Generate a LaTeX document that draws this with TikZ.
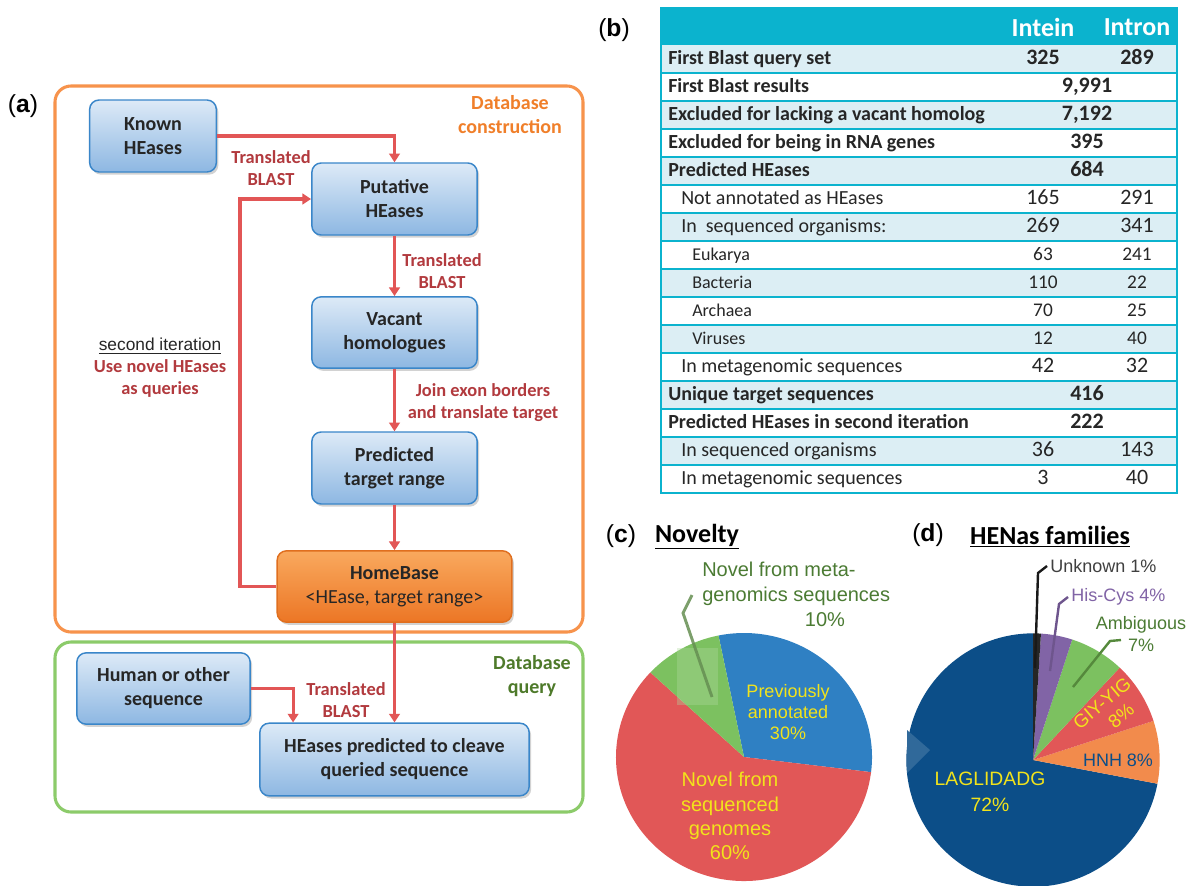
\documentclass[tikz,border=0pt]{standalone}
\usepackage{fontspec}
\setmainfont{Carlito}
\newfontfamily\arialf{Liberation Sans}
\usetikzlibrary{shadows,arrows.meta,calc}

\definecolor{oframe}{HTML}{F7934C}
\definecolor{gframe}{HTML}{8CCB6A}
\definecolor{otext}{HTML}{F07F2A}
\definecolor{gtext}{HTML}{4E7A2A}
\definecolor{ared}{HTML}{E25656}
\definecolor{lred}{HTML}{B23A3E}
\definecolor{btop}{HTML}{DDEAF7}
\definecolor{bbot}{HTML}{8DB7E2}
\definecolor{bline}{HTML}{3A86C9}
\definecolor{htop}{HTML}{F9A95E}
\definecolor{hbot}{HTML}{EC7625}
\definecolor{hline}{HTML}{E06F1F}
\definecolor{tteal}{HTML}{0BB3CE}
\definecolor{rowb}{HTML}{DCEEF4}
\definecolor{ttext}{HTML}{262626}
\definecolor{pblue}{HTML}{2F80C3}
\definecolor{pred}{HTML}{E15757}
\definecolor{pgreen}{HTML}{7CC160}
\definecolor{pyellow}{HTML}{F2E31B}
\definecolor{pdgreen}{HTML}{4B7B33}
\definecolor{pnavy}{HTML}{0C4E88}
\definecolor{porange}{HTML}{F28B4C}
\definecolor{ppurple}{HTML}{8164A6}
\definecolor{pgray}{HTML}{404040}

\begin{document}
\begin{tikzpicture}[x=0.75pt,y=-0.75pt,
  fbox/.style={draw=bline, line width=1.1pt, rounded corners=7pt, top color=btop, bottom color=bbot,
    align=center, inner sep=0pt, text=black!85, font=\bfseries\fontsize{15}{18}\selectfont,
    drop shadow={shadow xshift=1.5pt, shadow yshift=-2pt, opacity=0.35}},
  hbox/.style={fbox, draw=hline, top color=htop, bottom color=hbot},
  arr/.style={draw=ared, line width=2.3pt, -{Triangle[width=8pt,length=6.5pt]}},
  lab/.style={text=lred, align=center, font=\bfseries\fontsize{13.8}{16.5}\selectfont},
  tcell/.style={text=ttext, inner sep=0pt, text height=10.5pt, text depth=2.5pt},
  tbold/.style={tcell, anchor=west, font=\bfseries\fontsize{15}{17}\selectfont},
  treg/.style={tcell, anchor=west, font=\fontsize{15}{17}\selectfont},
  tsmall/.style={tcell, anchor=west, font=\fontsize{13.5}{15}\selectfont},
  nbold/.style={tcell, font=\bfseries\fontsize{16.5}{18}\selectfont},
  nreg/.style={tcell, font=\fontsize{16.5}{18}\selectfont},
  nsmall/.style={tcell, font=\fontsize{14.5}{16}\selectfont},
  plab/.style={font=\arialf\fontsize{13.5}{16}\selectfont, align=center, inner sep=0pt},
  panel/.style={font=\arialf\fontsize{18.5}{20}\selectfont, inner sep=0pt},
  ptitle/.style={font=\bfseries\fontsize{19.5}{22}\selectfont, inner sep=0pt}
]
\useasboundingbox (0,0) rectangle (1191,885);
\clip (0,0) rectangle (1191,885);
\fill[white] (0,0) rectangle (1191,885);

% ================= panel (a) =================
\node[panel] (pa) at (23,106) {(\textbf{a})};
\draw[oframe, line width=2.3pt, rounded corners=12pt] (55,86) rectangle (583,632);
\draw[gframe, line width=2.3pt, rounded corners=12pt] (55,642) rectangle (583,812);
\node[text=otext, align=center, font=\bfseries\fontsize{15}{18}\selectfont] (dbc) at (510,115) {Database\\construction};
\node[text=gtext, align=center, font=\bfseries\fontsize{15}{18}\selectfont] (dbq) at (532,676) {Database\\query};

\node[fbox, minimum width=95pt, minimum height=54pt] (known) at (153,136) {Known\\HEases};
\node[fbox, minimum width=124pt, minimum height=54pt] (putative) at (394.5,199) {Putative\\HEases};
\node[fbox, minimum width=124pt, minimum height=53.5pt] (vacant) at (394.5,332.5) {Vacant\\homologues};
\node[fbox, minimum width=124pt, minimum height=54pt] (predicted) at (394.5,468) {Predicted\\target range};
\node[hbox, minimum width=176pt, minimum height=53.5pt] (homebase) at (394.5,586.5) {HomeBase\\\mdseries\textless HEase, target range\textgreater};
\node[fbox, minimum width=130pt, minimum height=53.5pt] (human) at (163.5,688.5) {Human or other\\sequence};
\node[fbox, minimum width=202pt, minimum height=54.5pt] (hepred) at (394.5,759.5) {HEases predicted to cleave\\queried sequence};

\coordinate (loopx) at (240,400);
\coordinate (hin) at ($(hepred.north west)+(34,0)$);
\draw[arr] (known.east) -| (putative.north);
\draw[arr] (putative.south) -- (vacant.north);
\draw[arr] (vacant.south) -- (predicted.north);
\draw[arr] (predicted.south) -- (homebase.north);
\draw[arr] (homebase.west) -| (loopx) |- (putative.west);
\draw[arr] (homebase.south) -- (hepred.north);
\draw[arr] (human.east) -| (hin);

\node[lab] (l1) at (271,168) {Translated\\BLAST};
\node[lab] (l2) at (442,271) {Translated\\BLAST};
\node[lab] (l3) at (483,403) {Join exon borders\\and translate target};
\node[lab] (l4) at (346,700) {Translated\\BLAST};
\node[font=\arialf\fontsize{13}{15}\selectfont, text=black!85] (l5) at (160,346) {\underline{second iteration}};
\node[lab] (l6) at (160,378) {Use novel HEases\\as queries};

% ================= panel (b) =================
\node[panel] (pb) at (614,30) {(\textbf{b})};
\foreach \i in {0,2,...,14} \fill[rowb] (661,{45+28*\i}) rectangle (1177,{73+28*\i});
\fill[tteal] (661,8) rectangle (1177,45);
\foreach \i in {1,...,15} \draw[tteal, line width=1.6pt] (661,{45+28*\i}) -- (1177,{45+28*\i});
\draw[tteal, line width=1.6pt] (661,8) rectangle (1177,493);
\node[text=white, font=\bfseries\fontsize{19.5}{22}\selectfont] (hin1) at (1043,27) {Intein};
\node[text=white, font=\bfseries\fontsize{19.5}{22}\selectfont] (hin2) at (1137,27) {Intron};

\node[tbold] (r1) at (668,59) {First Blast query set};
\node[nbold] (r1a) at (1043,59) {325};
\node[nbold] (r1b) at (1137,59) {289};
\node[tbold] (r2) at (668,87) {First Blast results};
\node[nbold] (r2m) at (1087,87) {9,991};
\node[tbold] (r3) at (668,115) {Excluded for lacking a vacant homolog};
\node[nbold] (r3m) at (1087,115) {7,192};
\node[tbold] (r4) at (668,143) {Excluded for being in RNA genes};
\node[nbold] (r4m) at (1087,143) {395};
\node[tbold] (r5) at (668,171) {Predicted HEases};
\node[nbold] (r5m) at (1087,171) {684};
\node[treg] (r6) at (681,199) {Not annotated as HEases};
\node[nreg] (r6a) at (1043,199) {165};
\node[nreg] (r6b) at (1137,199) {291};
\node[treg] (r7) at (681,227) {In\ \ sequenced organisms:};
\node[nreg] (r7a) at (1043,227) {269};
\node[nreg] (r7b) at (1137,227) {341};
\node[tsmall] (r8) at (692,255) {Eukarya};
\node[nsmall] (r8a) at (1043,255) {63};
\node[nsmall] (r8b) at (1137,255) {241};
\node[tsmall] (r9) at (692,283) {Bacteria};
\node[nsmall] (r9a) at (1043,283) {110};
\node[nsmall] (r9b) at (1137,283) {22};
\node[tsmall] (r10) at (692,311) {Archaea};
\node[nsmall] (r10a) at (1043,311) {70};
\node[nsmall] (r10b) at (1137,311) {25};
\node[tsmall] (r11) at (692,339) {Viruses};
\node[nsmall] (r11a) at (1043,339) {12};
\node[nsmall] (r11b) at (1137,339) {40};
\node[treg] (r12) at (681,367) {In metagenomic sequences};
\node[nreg] (r12a) at (1043,367) {42};
\node[nreg] (r12b) at (1137,367) {32};
\node[tbold] (r13) at (668,395) {Unique target sequences};
\node[nbold] (r13m) at (1087,395) {416};
\node[tbold] (r14) at (668,423) {Predicted HEases in second iteration};
\node[nbold] (r14m) at (1087,423) {222};
\node[treg] (r15) at (681,451) {In sequenced organisms};
\node[nreg] (r15a) at (1043,451) {36};
\node[nreg] (r15b) at (1137,451) {143};
\node[treg] (r16) at (681,479) {In metagenomic sequences};
\node[nreg] (r16a) at (1043,479) {3};
\node[nreg] (r16b) at (1137,479) {40};

% ================= panel (c) =================
\node[panel] (pc0) at (621,536) {(\textbf{c})};
\node[ptitle] (ct) at (697,537) {\underline{Novelty}};
\coordinate (pcc) at (744,757);
\fill[pblue] (pcc) -- ++(101.5:96pt and 93pt) arc[start angle=101.5, end angle=-7, x radius=96pt, y radius=93pt] -- cycle;
\fill[pred] (pcc) -- ++(-7:96pt and 93pt) arc[start angle=-7, end angle=-223, x radius=96pt, y radius=93pt] -- cycle;
\fill[pgreen] (pcc) -- ++(137:96pt and 93pt) arc[start angle=137, end angle=101.5, x radius=96pt, y radius=93pt] -- cycle;
\fill[pgreen!60!white, opacity=0.35] (677,648) rectangle (718,705);
\coordinate (cl1) at (692,595);
\coordinate (cl2) at (683,613);
\coordinate (cl3) at (712,697);
\draw[pdgreen!85!white, line width=2.2pt, opacity=0.85] (cl1) -- (cl2) -- (cl3);
\node[plab, anchor=north west, align=left, text=pdgreen, font=\arialf\fontsize{15}{18.5}\selectfont] (cmeta) at (702,562) {Novel from meta-\\genomics sequences\\\hspace*{77pt}10\%};
\node[plab, text=pyellow, font=\arialf\fontsize{13.5}{15.6}\selectfont] (cprev) at (788,712) {Previously\\annotated\\30\%};
\node[plab, text=pyellow, font=\arialf\fontsize{15}{18.2}\selectfont] (cnov) at (730,816) {Novel from\\sequenced\\genomes\\60\%};

% ================= panel (d) =================
\node[panel] (pd0) at (928,535) {(\textbf{d})};
\node[ptitle] (dt) at (1050,537) {\underline{HENas families}};
\coordinate (pdc) at (1033,760);
\def\rr{95pt}
\fill[pnavy] (pdc) -- ++(-10.8:\rr) arc[start angle=-10.8, end angle=-270, radius=\rr] -- cycle;
\fill[porange] (pdc) -- ++(18:\rr) arc[start angle=18, end angle=-10.8, radius=\rr] -- cycle;
\fill[pred] (pdc) -- ++(46.8:\rr) arc[start angle=46.8, end angle=18, radius=\rr] -- cycle;
\fill[pgreen] (pdc) -- ++(72:\rr) arc[start angle=72, end angle=46.8, radius=\rr] -- cycle;
\fill[ppurple] (pdc) -- ++(86.4:\rr) arc[start angle=86.4, end angle=72, radius=\rr] -- cycle;
\fill[black!85] (pdc) -- ++(90:\rr) arc[start angle=90, end angle=86.4, radius=\rr] -- cycle;
\fill[pnavy!85!white] (907,730) -- (930,750) -- (907,773) -- cycle;

\coordinate (du1) at (1035,668);
\coordinate (du2) at (1038,573);
\coordinate (du3) at (1047,566);
\draw[black!90, line width=1.8pt] (du1) -- (du2) -- (du3);
\coordinate (dh1) at (1050,671);
\coordinate (dh2) at (1059,604);
\coordinate (dh3) at (1068,597);
\draw[ppurple!85!black, line width=1.8pt] (dh1) -- (dh2) -- (dh3);
\coordinate (da1) at (1073,687);
\coordinate (da2) at (1110,641);
\coordinate (da3) at (1121,640);
\draw[pdgreen!80!pgreen, line width=1.8pt] (da1) -- (da2) -- (da3);

\node[plab, anchor=west, text=pgray] (dunk) at (1050,566) {Unknown 1\%};
\node[plab, anchor=west, text=ppurple] (dhis) at (1071,597) {His-Cys 4\%};
\node[plab, text=pdgreen, font=\arialf\fontsize{13.5}{17}\selectfont] (damb) at (1141,634) {Ambiguous\\7\%};
\node[plab, text=pyellow, rotate=40, font=\arialf\fontsize{14}{15}\selectfont] (dgiy1) at (1102,703) {GIY-YIG};
\node[plab, text=pyellow, rotate=40, font=\arialf\fontsize{14}{15}\selectfont] (dgiy2) at (1121,716) {8\%};
\node[plab, text=pnavy] (dhnh) at (1118,760) {HNH 8\%};
\node[plab, text=pyellow, font=\arialf\fontsize{14.5}{19.5}\selectfont] (dlag) at (990,792) {LAGLIDADG\\72\%};
\end{tikzpicture}
\end{document}
